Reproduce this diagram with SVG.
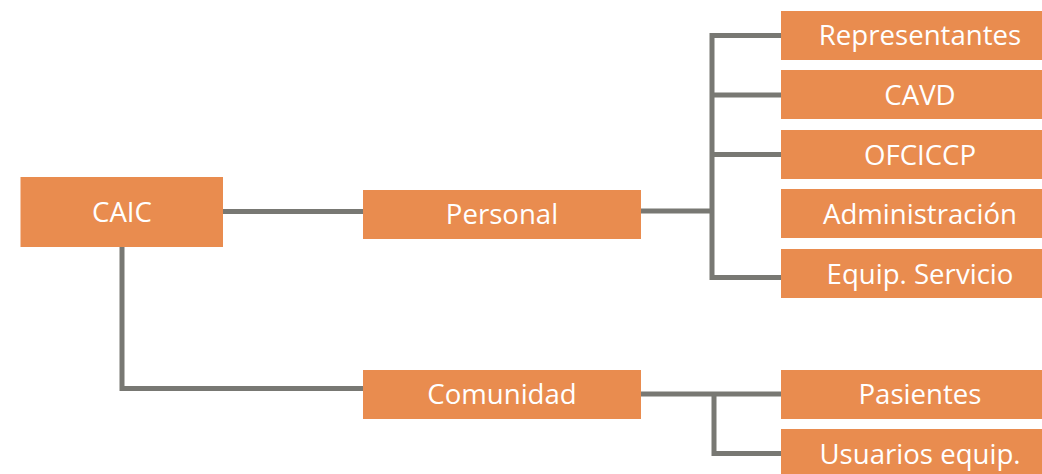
<svg xmlns="http://www.w3.org/2000/svg" width="1042" height="474" viewBox="0 0 1042 474">
<style>
.box{fill:#E98C4F}
.lbl{font-family:"Open Sans","Liberation Sans",sans-serif;font-size:27.6px;fill:#ffffff;text-anchor:middle}
.con{fill:none;stroke:#787873;stroke-width:5}
</style>
<rect width="1042" height="474" fill="#ffffff"/>
<g id="connectors">
<path class="con" d="M223 211.5H363"/>
<path class="con" d="M122 247V388.5H363"/>
<path class="con" d="M641 211H712"/>
<path class="con" d="M781 35.5H712V277.5H781"/>
<path class="con" d="M712 95H781"/>
<path class="con" d="M712 154.5H781"/>
<path class="con" d="M641 394H781"/>
<path class="con" d="M714 394V453.5H781"/>
</g>
<g id="caic"><rect class="box" x="20.5" y="177" width="202.5" height="70"/><text class="lbl" x="122" y="222">CAIC</text></g>
<g id="personal"><rect class="box" x="363" y="190" width="278" height="49"/><text class="lbl" x="502" y="223.5">Personal</text></g>
<g id="comunidad"><rect class="box" x="363" y="370" width="278" height="49"/><text class="lbl" x="502" y="403.5">Comunidad</text></g>
<g id="representantes"><rect class="box" x="781" y="11" width="278" height="49"/><text class="lbl" x="920" y="45">Representantes</text></g>
<g id="cavd"><rect class="box" x="781" y="70" width="278" height="49"/><text class="lbl" x="920" y="104.5">CAVD</text></g>
<g id="ofciccp"><rect class="box" x="781" y="130" width="278" height="49"/><text class="lbl" x="920" y="164.5">OFCICCP</text></g>
<g id="administracion"><rect class="box" x="781" y="189" width="278" height="49"/><text class="lbl" x="920" y="223.5">Administración</text></g>
<g id="equip-servicio"><rect class="box" x="781" y="249" width="278" height="49"/><text class="lbl" x="920" y="283.5">Equip. Servicio</text></g>
<g id="pasientes"><rect class="box" x="781" y="370" width="278" height="49"/><text class="lbl" x="920" y="404">Pasientes</text></g>
<g id="usuarios-equip"><rect class="box" x="781" y="429" width="278" height="49"/><text class="lbl" x="920" y="463.5">Usuarios equip.</text></g>
</svg>
